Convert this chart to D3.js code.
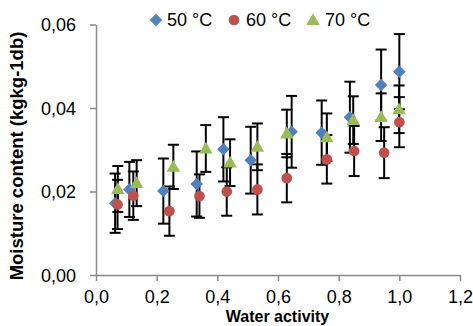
<!DOCTYPE html>
<html>
<head>
<meta charset="utf-8">
<script src="https://cdn.jsdelivr.net/npm/d3@7"></script>
<style>
  html, body { margin: 0; padding: 0; background: #fff; }
  svg { display: block; font-family: "Liberation Sans", Arial, sans-serif; }
</style>
</head>
<body>
<svg id="chart" width="473" height="326"></svg>
<script>
// ---- data ----
const seriesNames = ["50 °C", "60 °C", "70 °C"];
const seriesColors = ["#4F81BD", "#C0504D", "#9BBB59"];
const seriesShapes = ["diamond", "circle", "triangle"];

const aw50 = [0.063, 0.110, 0.222, 0.332, 0.420, 0.510, 0.645, 0.744, 0.837, 0.940, 1.000];
const mc50 = [0.0172, 0.0205, 0.0201, 0.0218, 0.0301, 0.0275, 0.0343, 0.0341, 0.0378, 0.0455, 0.0487];
const err50 = [0.0071, 0.0066, 0.0078, 0.0078, 0.0077, 0.0080, 0.0086, 0.0077, 0.0085, 0.0085, 0.0090];

const aw60 = [0.071, 0.123, 0.242, 0.341, 0.431, 0.532, 0.629, 0.761, 0.851, 0.950, 1.000];
const mc60 = [0.0169, 0.0190, 0.0153, 0.0189, 0.0200, 0.0205, 0.0232, 0.0277, 0.0297, 0.0293, 0.0366];
const err60 = [0.0059, 0.0058, 0.0059, 0.0052, 0.0058, 0.0060, 0.0058, 0.0058, 0.0060, 0.0061, 0.0060];

const aw70 = [0.072, 0.134, 0.255, 0.362, 0.442, 0.532, 0.629, 0.761, 0.848, 0.940, 0.999];
const mc70 = [0.0206, 0.0220, 0.0259, 0.0303, 0.0269, 0.0307, 0.0339, 0.0330, 0.0371, 0.0378, 0.0397];
const err70 = [0.0055, 0.0055, 0.0053, 0.0056, 0.0056, 0.0056, 0.0057, 0.0057, 0.0057, 0.0057, 0.0057];

const xTicks = [0, 0.2, 0.4, 0.6, 0.8, 1.0, 1.2];
const yTicks = [0, 0.02, 0.04, 0.06];
const xTitle = "Water activity";
const yTitle = "Moisture content (kgkg-1db)";

// ---- build ----
const series = [
  { name: seriesNames[0], color: seriesColors[0], shape: seriesShapes[0], aw: aw50, mc: mc50, err: err50 },
  { name: seriesNames[1], color: seriesColors[1], shape: seriesShapes[1], aw: aw60, mc: mc60, err: err60 },
  { name: seriesNames[2], color: seriesColors[2], shape: seriesShapes[2], aw: aw70, mc: mc70, err: err70 }
];

const svg = d3.select("#chart");
const x = d3.scaleLinear().domain([0, 1.2]).range([96, 460]);
const y = d3.scaleLinear().domain([0, 0.06]).range([275, 24.5]);

const loc = d3.formatLocale({ decimal: ",", thousands: ".", grouping: [3], currency: ["", ""] });
const fx = loc.format(".1f");
const fy = loc.format(".2f");

// axes
const gx = svg.append("g").attr("transform", "translate(0,275)")
  .call(d3.axisBottom(x).tickValues(xTicks).tickFormat(fx).tickSizeInner(6).tickSizeOuter(0).tickPadding(9));
const gy = svg.append("g").attr("transform", "translate(96,0)")
  .call(d3.axisLeft(y).tickValues(yTicks).tickFormat(fy).tickSizeInner(6).tickSizeOuter(0).tickPadding(14));
[gx, gy].forEach(g => {
  g.select(".domain").attr("stroke", "#898989").attr("stroke-width", 1.5);
  g.selectAll(".tick line").attr("stroke", "#898989").attr("stroke-width", 1.5);
  g.selectAll(".tick text").attr("fill", "#000").style("font-size", "18px")
    .style("font-family", "'Liberation Sans', Arial, sans-serif");
});
gy.selectAll(".tick text").attr("dy", "0.35em");

// titles
svg.append("text")
  .attr("x", 277.5).attr("y", 322)
  .attr("text-anchor", "middle")
  .style("font-weight", "bold").style("font-size", "16px")
  .text(xTitle);
svg.append("text")
  .attr("transform", "translate(23,156) rotate(-90)")
  .attr("text-anchor", "middle")
  .style("font-weight", "bold").style("font-size", "18.5px")
  .text(yTitle);

// error bars (drawn beneath markers)
const capW = 5.5;
series.forEach(s => {
  const g = svg.append("g").attr("stroke", "#000").attr("stroke-width", 2).attr("fill", "none");
  s.aw.forEach((a, i) => {
    const cx = x(a), y1 = y(s.mc[i] + s.err[i]), y0 = y(s.mc[i] - s.err[i]);
    g.append("line").attr("x1", cx).attr("x2", cx).attr("y1", y1).attr("y2", y0);
    g.append("line").attr("x1", cx - capW).attr("x2", cx + capW).attr("y1", y1).attr("y2", y1);
    g.append("line").attr("x1", cx - capW).attr("x2", cx + capW).attr("y1", y0).attr("y2", y0);
  });
});

function marker(sel, shape, color) {
  if (shape === "diamond") {
    sel.append("path").attr("d", d3.symbol(d3.symbolSquare, 78)()).attr("transform", "rotate(45)").attr("fill", color);
  } else if (shape === "circle") {
    sel.append("path").attr("d", d3.symbol(d3.symbolCircle, 90)()).attr("fill", color);
  } else {
    sel.append("path").attr("d", d3.symbol(d3.symbolTriangle, 80)()).attr("transform", "translate(0,1)").attr("fill", color);
  }
}

// markers
series.forEach(s => {
  s.aw.forEach((a, i) => {
    const g = svg.append("g").attr("transform", `translate(${x(a)},${y(s.mc[i])})`);
    marker(g, s.shape, s.color);
  });
});

// legend
const legendPos = [[156, 167], [234, 246], [313, 325]];
series.forEach((s, i) => {
  const g = svg.append("g").attr("transform", `translate(${legendPos[i][0]},20)`);
  marker(g, s.shape, s.color);
  svg.append("text").attr("x", legendPos[i][1]).attr("y", 20).attr("dy", "0.35em")
    .style("font-size", "18px").text(s.name);
});
</script>
</body>
</html>
